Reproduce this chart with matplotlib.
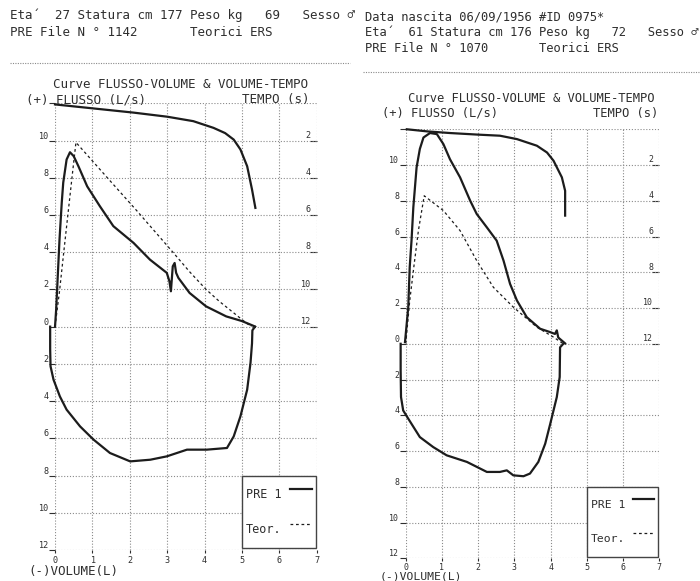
import matplotlib.pyplot as plt
from matplotlib.lines import Line2D

plt.rcParams['font.family'] = ['DejaVu Sans Mono', 'DejaVu Sans']

# --- scheda 1 (sinistra) ---
sx_esp_vol = [0.0, 0.03, 0.08, 0.12, 0.18, 0.22, 0.31, 0.40, 0.50, 0.63, 0.86, 1.2, 1.56, 2.1, 2.54,
              2.99, 3.06, 3.1, 3.15, 3.2, 3.24, 3.3, 3.6, 4.04, 4.58, 5.0, 5.3, 5.35]
sx_esp_flow = [0.0, 0.9, 3.0, 4.68, 6.66, 7.74, 8.98, 9.37, 9.16, 8.6, 7.54, 6.47, 5.4, 4.5, 3.6,
               2.89, 2.44, 1.9, 3.24, 3.42, 2.89, 2.62, 1.81, 1.09, 0.55, 0.3, 0.05, 0.0]
sx_insp_vol = [-0.13, -0.13, -0.12, -0.04, 0.13, 0.31, 0.67, 1.03, 1.47, 2.01, 2.55, 2.99, 3.53,
               4.06, 4.6, 4.78, 4.96, 5.14, 5.23, 5.27, 5.28, 5.35]
sx_insp_flow = [0.0, -1.2, -2.13, -2.85, -3.75, -4.46, -5.36, -6.07, -6.79, -7.24, -7.15, -6.97, -6.61,
                -6.61, -6.52, -5.9, -4.82, -3.39, -1.94, -0.9, -0.2, 0.0]
sx_teo_vol = [0.0, 0.12, 0.25, 0.36, 0.47, 0.56, 1.4, 2.2, 3.17, 3.6, 4.04, 4.4, 4.78, 5.05, 5.25]
sx_teo_flow = [0.0, 1.9, 4.3, 6.3, 8.3, 9.9, 8.0, 6.2, 3.96, 2.95, 2.0, 1.35, 0.74, 0.3, 0.0]
sx_vt_vol = [0.0, 1.0, 2.1, 3.0, 3.7, 4.24, 4.55, 4.78, 4.96, 5.14, 5.27, 5.36]
sx_vt_tempo = [0.06, 0.27, 0.5, 0.72, 0.96, 1.32, 1.6, 1.95, 2.48, 3.38, 4.63, 5.62]

# --- scheda 2 (destra) ---
dx_esp_vol = [-0.02, 0.07, 0.11, 0.16, 0.21, 0.30, 0.39, 0.49, 0.67, 0.86, 1.04, 1.22, 1.5, 1.78,
              1.96, 2.24, 2.51, 2.7, 2.88, 3.07, 3.34, 3.71, 3.99, 4.12, 4.17, 4.21, 4.4]
dx_esp_flow = [0.09, 2.05, 4.28, 5.77, 7.63, 9.87, 10.9, 11.54, 11.79, 11.73, 11.17, 10.33, 9.31, 8.0,
               7.26, 6.51, 5.77, 4.65, 3.35, 2.42, 1.49, 0.84, 0.65, 0.55, 0.75, 0.35, 0.02]
dx_insp_vol = [-0.14, -0.14, -0.13, -0.07, 0.07, 0.39, 0.76, 1.13, 1.69, 2.24, 2.6, 2.79, 2.97, 3.25,
               3.43, 3.66, 3.85, 3.99, 4.17, 4.25, 4.26, 4.35]
dx_insp_flow = [0.0, -1.5, -2.98, -3.73, -4.19, -5.22, -5.78, -6.24, -6.61, -7.17, -7.17, -7.08, -7.36,
                -7.41, -7.26, -6.61, -5.59, -4.47, -2.98, -1.86, -0.2, 0.0]
dx_teo_vol = [0.0, 0.11, 0.23, 0.35, 0.51, 1.04, 1.5, 1.96, 2.42, 2.97, 3.62, 4.08, 4.35]
dx_teo_flow = [0.0, 2.4, 4.4, 6.33, 8.28, 7.45, 6.33, 4.65, 3.16, 2.05, 0.93, 0.37, 0.0]
dx_vt_vol = [0.03, 0.6, 1.22, 2.0, 2.6, 3.07, 3.62, 3.9, 4.08, 4.31, 4.4, 4.4]
dx_vt_tempo = [0.0, 0.12, 0.21, 0.3, 0.36, 0.55, 0.92, 1.3, 1.76, 2.69, 3.44, 4.83]

vol_ticks = list(range(0, 8))
flusso_ticks = list(range(-12, 13, 2))
tempo_ticks = [2, 4, 6, 8, 10, 12]

tratto = '#1c1c1c'
testo = '#2e2e2e'
griglia = '#8a8a8a'


def pannello(ax, esp_vol, esp_flow, insp_vol, insp_flow, teo_vol, teo_flow, vt_vol, vt_tempo, fs,
             xpad=1.5):
    ax.set_xlim(0, 7)
    ax.set_ylim(-12, 12)
    for sp in ax.spines.values():
        sp.set_visible(False)
    ax.set_xticks(vol_ticks)
    ax.set_yticks(flusso_ticks)
    ax.set_yticklabels(['' if v == 12 else str(abs(v)) for v in flusso_ticks])
    plt.setp(ax.get_yticklabels(), va='bottom')
    ax.tick_params(axis='y', length=4, width=0.8, pad=0.5, labelsize=fs * 0.68,
                   color=testo, labelcolor=testo)
    ax.tick_params(axis='x', length=2.5, width=0.8, pad=xpad, labelsize=fs * 0.68,
                   color=testo, labelcolor=testo)
    ax.grid(True, color=griglia, lw=0.8, ls=(0, (1, 1.6)))
    ax.set_axisbelow(True)

    linea = dict(color=tratto, lw=1.6, solid_joinstyle='round', clip_on=False)
    pre, = ax.plot(esp_vol, esp_flow, **linea)
    ax.plot(insp_vol, insp_flow, **linea)
    # volume-tempo: il tempo cresce verso il basso a partire dal bordo superiore
    ax.plot(vt_vol, [12 - t for t in vt_tempo], **linea)
    teor, = ax.plot(teo_vol, teo_flow, color=tratto, lw=0.9, ls=(0, (2.2, 2.2)))

    sec = ax.secondary_yaxis('right', functions=(lambda y: 12 - y, lambda t: 12 - t))
    sec.set_yticks(tempo_ticks)
    sec.tick_params(direction='in', length=5, width=0.8, labelright=False, color=testo)
    sec.spines['right'].set_visible(False)
    for t in tempo_ticks:
        ax.annotate(str(t), xy=(1, 12 - t), xycoords=ax.get_yaxis_transform(),
                    xytext=(-4.5, 0.5), textcoords='offset points', ha='right', va='bottom',
                    fontsize=fs * 0.68, color=testo)

    leg = ax.legend([pre, teor], ['PRE 1', 'Teor.'], loc='upper left', bbox_to_anchor=(5, -8),
                    bbox_transform=ax.transData, borderaxespad=0, markerfirst=False,
                    fontsize=fs * 0.94, handlelength=1.85, handletextpad=0.7, handleheight=3.45,
                    labelspacing=0.5, borderpad=0.35, fancybox=False, framealpha=1,
                    edgecolor='#444444', facecolor='white')
    leg.get_frame().set_linewidth(1.0)
    for tx in leg.get_texts():
        tx.set_color(testo)


fig = plt.figure(figsize=(7.0, 5.81), dpi=100)
W, H = 700, 581


def scrivi(x, y, s, fs, **kw):
    fig.text(x / W, 1 - y / H, s, fontsize=fs, color=testo, va='center', **kw)


# scheda sinistra
ax1 = fig.add_axes([0.0786, 0.0534, 0.3738, 0.7688])
pannello(ax1, sx_esp_vol, sx_esp_flow, sx_insp_vol, sx_insp_flow, sx_teo_vol, sx_teo_flow,
         sx_vt_vol, sx_vt_tempo, 9.0)
scrivi(10, 15, "Eta´  27 Statura cm 177 Peso kg   69   Sesso ♂", 9.0)
scrivi(10, 33, "PRE File N ° 1142       Teorici ERS", 9.0)
fig.add_artist(Line2D([10 / W, 350 / W], [1 - 63 / H] * 2, color=griglia, lw=0.8, ls=(0, (1, 1.2))))
scrivi(53, 85, "Curve FLUSSO-VOLUME & VOLUME-TEMPO", 9.0)
scrivi(26, 100, "(+) FLUSSO (L/s)", 9.0)
scrivi(310, 100, "TEMPO (s)", 9.0, ha='right')
scrivi(28, 572, "(-)VOLUME(L)", 9.0)

# scheda destra
ax2 = fig.add_axes([0.5796, 0.0391, 0.3623, 0.7384])
pannello(ax2, dx_esp_vol, dx_esp_flow, dx_insp_vol, dx_insp_flow, dx_teo_vol, dx_teo_flow,
         dx_vt_vol, dx_vt_tempo, 8.7, xpad=0.6)
scrivi(365, 17, "Data nascita 06/09/1956 #ID 0975*", 8.7)
scrivi(365, 32, "Eta´  61 Statura cm 176 Peso kg   72   Sesso ♂", 8.7)
scrivi(365, 48, "PRE File N ° 1070       Teorici ERS", 8.7)
fig.add_artist(Line2D([363 / W, 700 / W], [1 - 72 / H] * 2, color=griglia, lw=0.8, ls=(0, (1, 1.2))))
scrivi(408, 98, "Curve FLUSSO-VOLUME & VOLUME-TEMPO", 8.7)
scrivi(382, 113, "(+) FLUSSO (L/s)", 8.7)
scrivi(658, 113, "TEMPO (s)", 8.7, ha='right')
scrivi(380, 576.5, "(-)VOLUME(L)", 8.2)

fig.savefig('out.png', dpi=100, facecolor='white')
